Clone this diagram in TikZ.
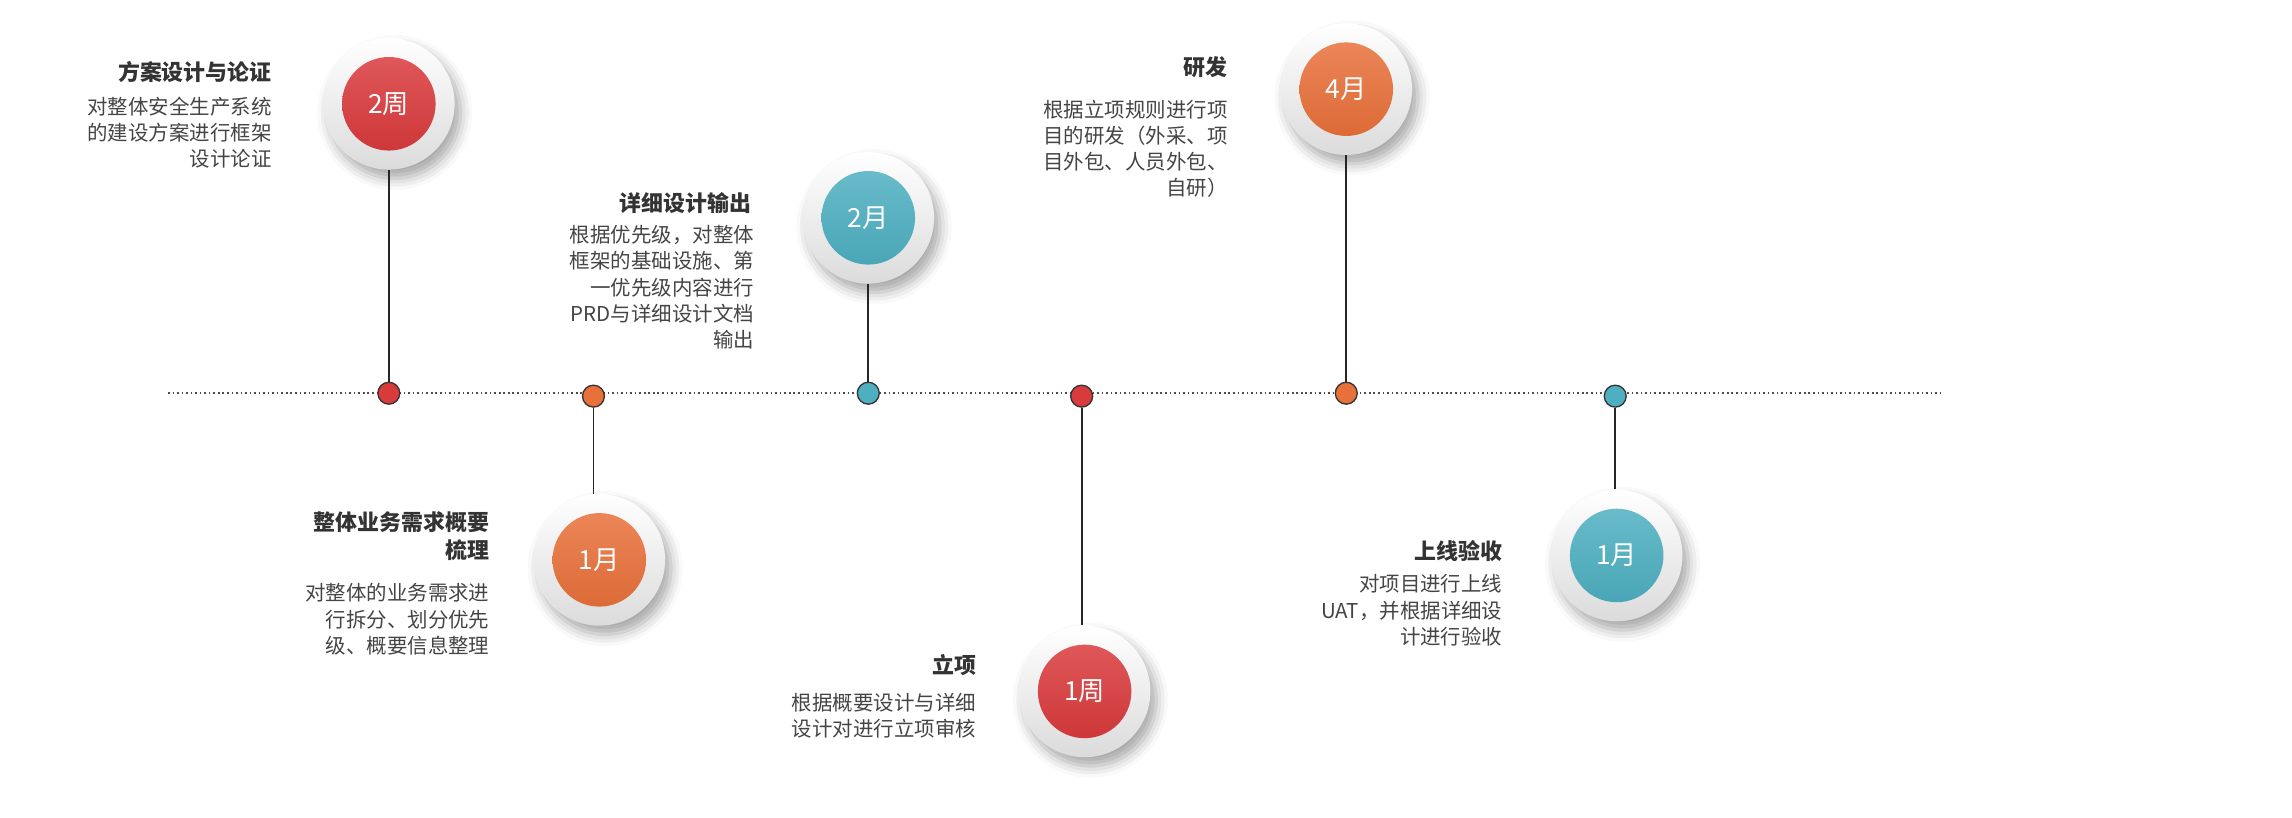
\documentclass[tikz,border=0pt]{standalone}
\usepackage{fontspec}
\setmainfont{Noto Sans CJK SC}
\usetikzlibrary{shadows.blur}
\definecolor{cred}{HTML}{D93A3C}
\definecolor{corange}{HTML}{E8703A}
\definecolor{cteal}{HTML}{4DAFC0}
\definecolor{ctext}{HTML}{333333}
\definecolor{cbody}{HTML}{444444}
\tikzset{
 dotn/.style={circle,draw=black!80,line width=0.9pt,minimum size=15pt,inner sep=0pt,fill=#1},
 ring/.style={circle,minimum size=90pt,inner sep=0pt,top color=white,bottom color=black!14,
   blur shadow={shadow xshift=4pt,shadow yshift=-6pt,shadow blur radius=8pt,shadow opacity=35}},
 ball/.style={circle,minimum size=64pt,inner sep=0pt,top color=#1!85!white,bottom color=#1!95!black,
   text=white,font=\fontsize{18}{18}\selectfont},
 stem/.style={line width=1.2pt,black!85},
 ttl/.style={font=\bfseries\fontsize{15}{19}\selectfont,text=ctext,align=right,inner sep=0pt},
 body/.style={font=\fontsize{14}{18}\selectfont,text=cbody,align=right,inner sep=0pt},
}
\begin{document}
\begin{tikzpicture}[x=1pt,y=-1pt]
\useasboundingbox (0,0) rectangle (1568,559.6);
\draw[line width=1.1pt,dotted,black!70] (115,269) -- (1328,269);
\node[dotn=cred] (d1) at (266,269) {};
\node[dotn=corange] (d2) at (406,271) {};
\node[dotn=cteal] (d3) at (594,269) {};
\node[dotn=cred] (d4) at (740,271) {};
\node[dotn=corange] (d5) at (921,269) {};
\node[dotn=cteal] (d6) at (1105,271) {};
% rings
\node[ring] (r1) at (266,71) {};
\node[ring] (r2) at (410,383) {};
\node[ring] (r3) at (594,149) {};
\node[ring] (r4) at (742,473) {};
\node[ring] (r5) at (921,61) {};
\node[ring] (r6) at (1106,380) {};
\draw[stem] (r1.south) -- (d1.north);
\draw[stem] (d2.south) -- (d2.south |- r2.north);
\draw[stem] (r3.south) -- (d3.north);
\draw[stem] (d4.south) -- (d4.south |- r4.north);
\draw[stem] (r5.south) -- (d5.north);
\draw[stem] (d6.south) -- (d6.south |- r6.north);
\node[ball=cred] (b1) at (r1) {2周};
\node[ball=corange] (b2) at (r2) {1月};
\node[ball=cteal] (b3) at (r3) {2月};
\node[ball=cred] (b4) at (r4) {1周};
\node[ball=corange] (b5) at (r5) {4月};
\node[ball=cteal] (b6) at (r6) {1月};
% texts
\node[ttl,anchor=east] (t1) at (186,49) {方案设计与论证};
\node[body,anchor=north east] (s1) at (186,66) {对整体安全生产系统\\的建设方案进行框架\\设计论证};
\node[ttl,anchor=east] (t3) at (514,139) {详细设计输出};
\node[body,anchor=north east] (s3) at (516,154) {根据优先级，对整体\\框架的基础设施、第\\一优先级内容进行\\PRD与详细设计文档\\输出};
\node[ttl,anchor=east] (t5) at (840,46) {研发};
\node[body,anchor=north east] (s5) at (840,68) {根据立项规则进行项\\目的研发（外采、项\\目外包、人员外包、\\自研）};
\node[ttl,anchor=north east] (t2) at (335,350) {整体业务需求概要\\梳理};
\node[body,anchor=north east] (s2) at (335,399) {对整体的业务需求进\\行拆分、划分优先\\级、概要信息整理};
\node[ttl,anchor=east] (t4) at (668,455) {立项};
\node[body,anchor=north east] (s4) at (668,474) {根据概要设计与详细\\设计对进行立项审核};
\node[ttl,anchor=east] (t6) at (1028,377) {上线验收};
\node[body,anchor=north east] (s6) at (1028,393) {对项目进行上线\\UAT，并根据详细设\\计进行验收};
\end{tikzpicture}
\end{document}
